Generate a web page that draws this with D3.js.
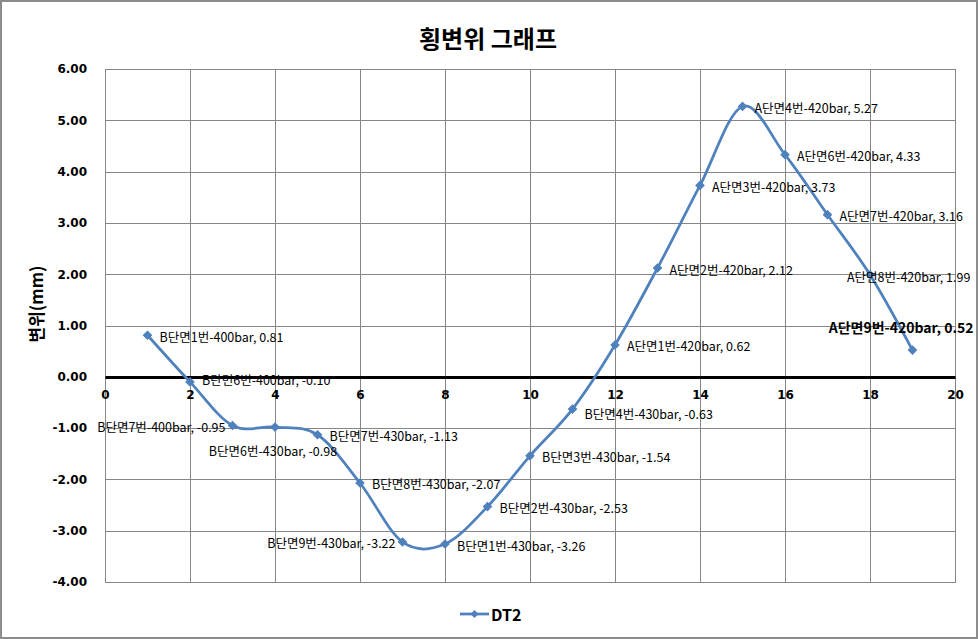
<!DOCTYPE html>
<html><head><meta charset="utf-8">
<script src="https://cdn.jsdelivr.net/npm/d3@7"></script>
<style>body{margin:0;background:#fff}</style>
</head><body>
<script>
const xValues = [1,2,3,4,5,6,7,8,9,10,11,12,13,14,15,16,17,18,19];
const yValues = [0.81,-0.10,-0.95,-0.98,-1.13,-2.07,-3.22,-3.26,-2.53,-1.54,-0.63,0.62,2.12,3.73,5.27,4.33,3.16,1.99,0.52];
const pointNames = ["B단면1번-400bar","B단면6번-400bar","B단면7번-400bar","B단면6번-430bar","B단면7번-430bar","B단면8번-430bar","B단면9번-430bar","B단면1번-430bar","B단면2번-430bar","B단면3번-430bar","B단면4번-430bar","A단면1번-420bar","A단면2번-420bar","A단면3번-420bar","A단면4번-420bar","A단면6번-420bar","A단면7번-420bar","A단면8번-420bar","A단면9번-420bar"];
const labelPlacement = ["right","right-high","left","below","right","right","left","right","right","right","right-low","right","right","right","right","right","right","over","above"];
const xTicks = [0,2,4,6,8,10,12,14,16,18,20];
const yTicks = [-4,-3,-2,-1,0,1,2,3,4,5,6];
const seriesName = "DT2";
const titleText = "횡변위 그래프";
const yAxisTitle = "변위(mm)";

(function(){
const W = 978, H = 639;
const loc = d3.formatLocale({decimal:".",thousands:",",grouping:[3],currency:["",""],minus:"-"});
const f2 = loc.format(".2f");
const svg = d3.select("body").append("svg").attr("width", W).attr("height", H)
  .style("font-family", "'DejaVu Sans', sans-serif");

svg.append("rect").attr("x",1).attr("y",1).attr("width",W-2).attr("height",H-2)
  .attr("fill","#fff").attr("stroke","#8c8c8c").attr("stroke-width",2);

const pL = 105, pR = 955, pT = 69, pB = 582;
const x = d3.scaleLinear().domain([0,20]).range([pL,pR]);
const y = d3.scaleLinear().domain([-4,6]).range([pB,pT]);

// grid
const g = svg.append("g");
g.selectAll(".vg").data(xTicks).join("line")
  .attr("x1", d=>x(d)+0.5).attr("x2", d=>x(d)+0.5).attr("y1", pT).attr("y2", pB)
  .attr("stroke","#868686").attr("stroke-width",1);
g.selectAll(".hg").data(yTicks).join("line")
  .attr("x1", pL).attr("x2", pR).attr("y1", d=>Math.round(y(d))+0.5).attr("y2", d=>Math.round(y(d))+0.5)
  .attr("stroke","#868686").attr("stroke-width",1);
g.append("rect").attr("x",pL+0.5).attr("y",pT+0.5).attr("width",pR-pL).attr("height",pB-pT)
  .attr("fill","none").attr("stroke","#868686");

// y axis
const yAxis = d3.axisLeft(y).tickValues(yTicks).tickFormat(f2).tickSize(0).tickPadding(18);
const ya = svg.append("g").attr("transform",`translate(${pL},0)`).call(yAxis);
ya.select(".domain").remove();
ya.selectAll("text").attr("font-family","'DejaVu Sans', sans-serif").attr("font-size",12).attr("font-weight","bold").attr("fill","#000");

// x axis at zero
const xAxis = d3.axisBottom(x).tickValues(xTicks).tickFormat(loc.format("d")).tickSize(0).tickPadding(13);
const xa = svg.append("g").attr("transform",`translate(0,${Math.round(y(0))})`).call(xAxis);
xa.select(".domain").attr("stroke","#000").attr("stroke-width",3);
xa.selectAll("text").attr("font-family","'DejaVu Sans', sans-serif").attr("font-size",12).attr("font-weight","bold").attr("fill","#000");

// line
const data = xValues.map((v,i)=>({x:v,y:yValues[i],name:pointNames[i],pos:labelPlacement[i]}));
const line = d3.line().x(d=>x(d.x)).y(d=>y(d.y)).curve(d3.curveCardinal.tension(0));
svg.append("path").datum(data).attr("d",line).attr("fill","none")
  .attr("stroke","#4F81BD").attr("stroke-width",2.75).attr("stroke-linejoin","round");

const diamond = d3.symbol().type(d3.symbolSquare).size(34);
svg.selectAll(".mk").data(data).join("path")
  .attr("d",diamond).attr("transform",d=>`translate(${x(d.x)},${y(d.y)}) rotate(45)`)
  .attr("fill","#4F81BD").attr("stroke","#4F81BD").attr("stroke-width",1);

// labels
svg.selectAll(".lb").data(data).join("text")
  .attr("font-family","'Noto Sans CJK KR', sans-serif")
  .attr("font-size",d=>d.pos==="above"?14:12.5)
  .attr("font-weight",d=>d.pos==="above"?"bold":"normal")
  .attr("fill","#000")
  .attr("dominant-baseline","central")
  .text(d=>`${d.name}, ${f2(d.y)}`)
  .each(function(d){
    const px = x(d.x), py = y(d.y);
    const t = d3.select(this);
    if(d.pos==="right"){ t.attr("x",px+12).attr("y",py+1).attr("text-anchor","start"); }
    else if(d.pos==="right-high"){ t.attr("x",px+12).attr("y",py-2).attr("text-anchor","start"); }
    else if(d.pos==="right-low"){ t.attr("x",px+12).attr("y",py+4).attr("text-anchor","start"); }
    else if(d.pos==="left"){ t.attr("x",px-7).attr("y",py+1).attr("text-anchor","end"); }
    else if(d.pos==="below"){ t.attr("x",px-2).attr("y",py+23).attr("text-anchor","middle"); }
    else if(d.pos==="over"){ t.attr("x",px-23).attr("y",py+2).attr("text-anchor","start"); }
    else if(d.pos==="above"){ t.attr("x",px+61).attr("y",py-23).attr("text-anchor","end"); }
  });

// title
svg.append("text").attr("x",488).attr("y",37).attr("text-anchor","middle")
  .attr("dominant-baseline","central")
  .attr("font-family","'Noto Sans CJK KR', sans-serif").attr("font-size",24).attr("font-weight","bold")
  .text(titleText);

// y axis title
svg.append("text").attr("transform","translate(35,304) rotate(-90)").attr("text-anchor","middle")
  .attr("dominant-baseline","central")
  .attr("font-family","'Noto Sans CJK KR', sans-serif").attr("font-size",17).attr("font-weight","bold")
  .text(yAxisTitle);

// legend
const lg = svg.append("g").attr("transform","translate(460,614)");
lg.append("line").attr("x1",0).attr("x2",29).attr("y1",0).attr("y2",0).attr("stroke","#4F81BD").attr("stroke-width",2.75);
lg.append("path").attr("d",diamond).attr("transform","translate(14.5,0) rotate(45)").attr("fill","#4F81BD");
lg.append("text").attr("x",31).attr("y",0).attr("dominant-baseline","central")
  .attr("font-family","'Noto Sans CJK KR', sans-serif").attr("font-size",16).attr("font-weight","bold")
  .text(seriesName);
})();
</script>
</body></html>
